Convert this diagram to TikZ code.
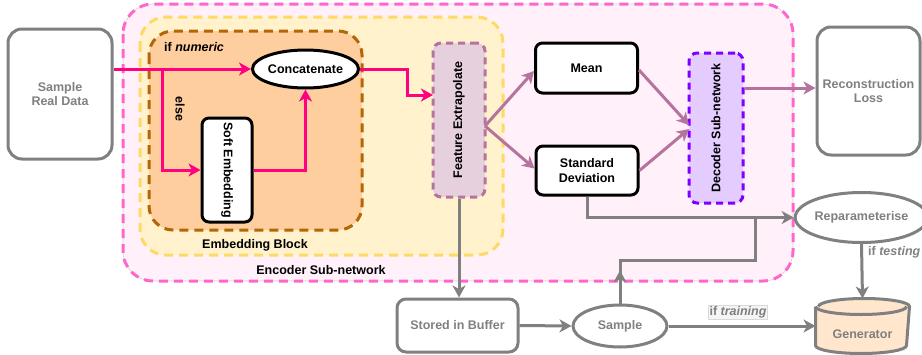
\documentclass[tikz,border=0pt]{standalone}
\usepackage{fontspec}
\setmainfont{Liberation Sans}
\usepackage{graphicx}
\usetikzlibrary{arrows.meta,shapes.geometric,calc}
\definecolor{grayc}{HTML}{808080}
\definecolor{pinkln}{HTML}{FF0080}
\definecolor{encdash}{HTML}{FF66CC}
\definecolor{encfill}{HTML}{FFF0F9}
\definecolor{embdash}{HTML}{FFD966}
\definecolor{embfill}{HTML}{FFF2CC}
\definecolor{brdash}{HTML}{B46504}
\definecolor{brfill}{HTML}{FFCE9F}
\definecolor{featln}{HTML}{B5739D}
\definecolor{featfill}{HTML}{E6D0DE}
\definecolor{decln}{HTML}{7F00FF}
\definecolor{decfill}{HTML}{E5CCFF}
\definecolor{genfill}{HTML}{FFE6CC}
\tikzset{
  base/.style={font=\bfseries\fontsize{12.5}{14.5}\selectfont, inner sep=0pt, line width=3pt},
  graybox/.style={base, draw=grayc, fill=white, text=grayc, rounded corners=14pt, align=center},
  grayell/.style={base, ellipse, draw=grayc, fill=white, text=grayc},
  blkbox/.style={base, draw=black, fill=white, rounded corners=7pt, align=center},
  blkell/.style={base, ellipse, draw=black, fill=white},
  featbox/.style={base, draw=featln, fill=featfill, dash pattern=on 7pt off 5pt, rounded corners=8pt},
  decbox/.style={base, draw=decln, fill=decfill, dash pattern=on 7pt off 5pt, rounded corners=8pt},
  lbl/.style={font=\bfseries\fontsize{12.5}{14.5}\selectfont, inner sep=0pt},
  tip/.style={-{Stealth[length=12pt,width=13pt,inset=3.5pt]}},
  pinkarr/.style={tip, draw=pinkln, line width=3pt},
  purparr/.style={tip, draw=featln, line width=3pt},
  grayarr/.style={tip, draw=grayc, line width=3pt},
  grayline/.style={draw=grayc, line width=3pt},
}
\begin{document}
\begin{tikzpicture}[x=1pt,y=-1pt]
\useasboundingbox (0,0) rectangle (922,354);

% containers
\draw[draw=gray!35, line width=0.6pt, fill=encfill, rounded corners=30pt] (123,4) rectangle (793,281);
\draw[draw=encdash, line width=3pt, dash pattern=on 9pt off 6pt, rounded corners=30pt] (123,4) rectangle (793,281);
\draw[draw=embdash, fill=embfill, line width=3pt, dash pattern=on 9pt off 6pt, rounded corners=26pt] (140,17) rectangle (503,255);
\draw[draw=brdash, fill=brfill, line width=3pt, dash pattern=on 9pt off 6pt, rounded corners=24pt] (149,31) rectangle (362,230);

\node[lbl] (enclbl) at (321,270) {Encoder Sub-network};
\node[lbl] (emblbl) at (255,245) {Embedding Block};
\node[lbl, anchor=west] (numlbl) at (164,47) {if \textit{numeric}};
\node[lbl] (elselbl) at (180,109) {\rotatebox{-90}{else}};

% nodes
\node[graybox, minimum width=104pt, minimum height=130pt] (real) at (60,94) {Sample\\Real Data};
\node[blkell, minimum width=95pt, minimum height=38pt] (concat) at (305.5,69) {Concatenate};
\node[blkbox, minimum width=50pt, minimum height=104pt] (soft) at (227,170) {\rotatebox{-90}{Soft Embedding}};
\node[featbox, minimum width=52pt, minimum height=154pt] (feat) at (459,120) {\rotatebox{90}{Feature Extrapolate}};
\node[blkbox, minimum width=102pt, minimum height=50pt] (mean) at (586.5,68) {Mean};
\node[blkbox, minimum width=102pt, minimum height=49pt] (std) at (587,170.5) {Standard\\Deviation};
\node[decbox, minimum width=54pt, minimum height=150pt] (dec) at (716,128) {\rotatebox{90}{Decoder Sub-network}};
\node[graybox, minimum width=103pt, minimum height=128pt] (recon) at (868.5,91) {Reconstruction\\Loss};
\node[grayell, minimum width=116pt, minimum height=50pt] (repar) at (861.5,217.5) {Reparameterise};
\node[graybox, rounded corners=9pt, minimum width=121pt, minimum height=53pt] (buffer) at (457.5,325.5) {Stored in Buffer};
\node[grayell, minimum width=94pt, minimum height=42pt] (sample) at (620,326) {Sample};
\node[base, minimum width=91pt, minimum height=52pt] (gen) at (862.5,326) {};
\fill[genfill] ($(gen.north west)+(0,8)$) -- ($(gen.south west)+(0,-8)$)
   arc[start angle=180,end angle=360,x radius=45.5pt,y radius=8pt]
   -- ($(gen.north east)+(0,8)$)
   arc[start angle=0,end angle=180,x radius=45.5pt,y radius=8pt] -- cycle;
\draw[grayc, line width=3pt] ($(gen.north west)+(0,8)$) -- ($(gen.south west)+(0,-8)$)
   arc[start angle=180,end angle=360,x radius=45.5pt,y radius=8pt]
   -- ($(gen.north east)+(0,8)$)
   arc[start angle=0,end angle=180,x radius=45.5pt,y radius=8pt];
\draw[grayc, line width=3pt] ($(gen.north west)+(0,8)$)
   arc[start angle=180,end angle=360,x radius=45.5pt,y radius=8pt];
\node[lbl, text=grayc] (genlbl) at ([yshift=-8pt]gen.center) {Generator};

% pink connectors
\coordinate (br) at (162,69);
\coordinate (fein) at (433,95);
\coordinate (bend) at (407,69);
\draw[pinkarr] (real.east |- concat.west) -- (concat.west);
\draw[pinkarr] (br) |- (soft.west);
\draw[pinkarr] (soft.east) -| (concat.south);
\draw[pinkarr] (concat.east) -- (bend) |- (fein);

% purple connectors
\coordinate (fo) at (485,126);
\coordinate (din) at (689,127);
\coordinate (rc) at ([yshift=3pt]recon.west);
\draw[purparr] (fo) -- ([yshift=-3pt]mean.west);
\draw[purparr] (fo) -- ([yshift=2pt]std.west);
\draw[purparr] ([yshift=-2pt]mean.east) -- ([yshift=2pt]din);
\draw[purparr] (std.east) -- ([yshift=-2pt]din);
\draw[purparr] (dec.east |- rc) -- (rc);

% gray connectors
\coordinate (j) at (755,217.5);
\coordinate (jt) at (755,260);
\draw[grayarr] (std.south) |- (repar.west);
\draw[grayline] (sample.north) |- (jt) -- (j);
\draw[grayarr] (sample.north) -- ++(0,-33);
\draw[grayarr] (feat.south) -- (feat.south |- buffer.north);
\draw[grayarr] (buffer.east) -- (sample.west);
\draw[grayarr] (sample.east) -- (gen.west);
\draw[grayarr] (repar.south) -- (gen.north);
\node[lbl, text=grayc, fill=gray!8, draw=gray!30, line width=0.5pt, inner sep=1pt] (trlbl) at (738,312) {if \textit{training}};
\node[lbl, text=grayc, anchor=west] (tslbl) at (868,252) {if \textit{testing}};
\end{tikzpicture}
\end{document}
